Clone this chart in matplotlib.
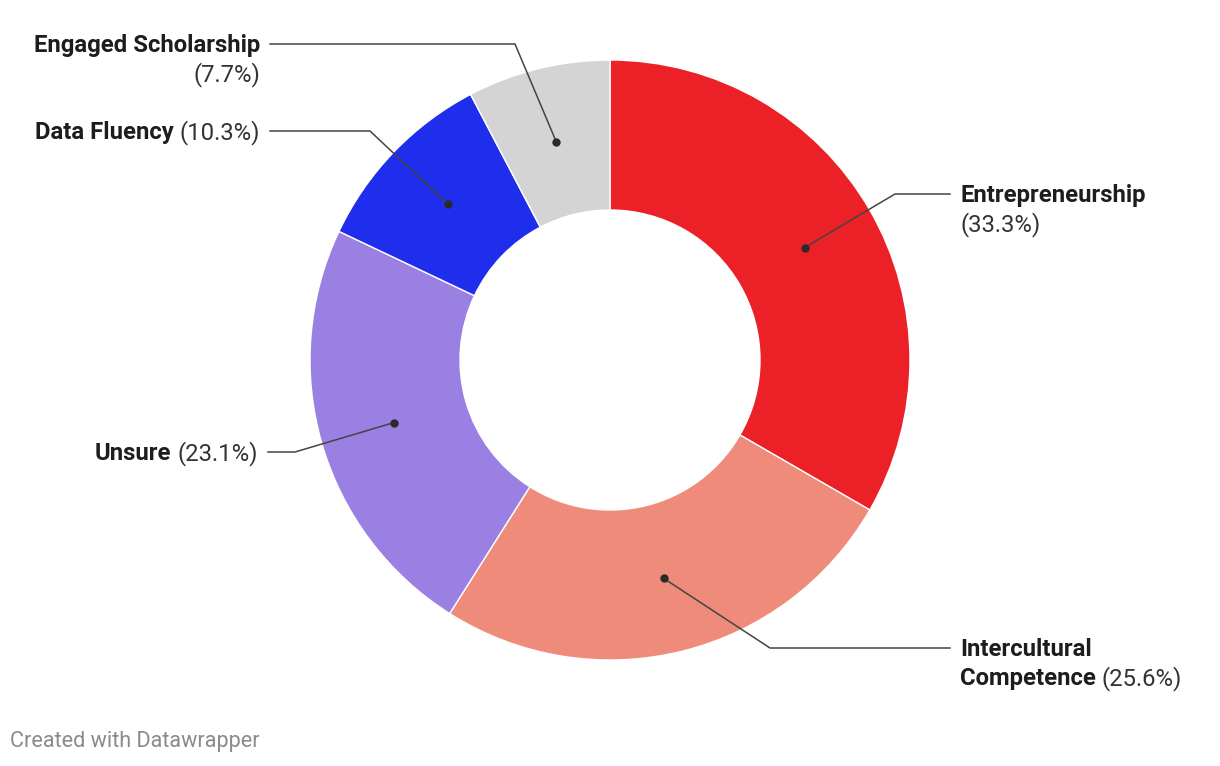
import matplotlib.pyplot as plt
import numpy as np

categories = ["Entrepreneurship", "Intercultural Competence", "Unsure",
              "Data Fluency", "Engaged Scholarship"]
counts = [13, 10, 9, 4, 3]
colors = ["#ec2128", "#ee8b7a", "#9a80e2", "#1f2ded", "#d4d4d4"]

# label layout, pixel coords from top-left: elbow, end of leader, side, line breaks
label_layout = [
    dict(elbow=(895, 194), end=950, side="left", lines=[["Entrepreneurship"], [None]]),
    dict(elbow=(770, 648), end=950, side="left", lines=[["Intercultural"], ["Competence", None]]),
    dict(elbow=(295, 452), end=268, side="right", lines=[["Unsure", None]]),
    dict(elbow=(370, 131), end=270, side="right", lines=[["Data Fluency", None]]),
    dict(elbow=(515, 44), end=270, side="right", lines=[["Engaged Scholarship"], [None]]),
]

W, H = 1220, 766
FS = 17.2
LINE_H = 29
FONT = "Roboto"

fig = plt.figure(figsize=(W / 100, H / 100), dpi=100)
ax = fig.add_axes([0, 0, 1, 1])

cx, cy, R = 610, H - 360, 300
wedges, _ = ax.pie(
    counts, colors=colors, startangle=90, counterclock=False,
    radius=R, center=(cx, cy),
    wedgeprops=dict(width=150, edgecolor="white", linewidth=1),
)
ax.set_xlim(0, W)
ax.set_ylim(0, H)
ax.set_aspect("equal")
ax.axis("off")

renderer = fig.canvas.get_renderer()
total = sum(counts)


def draw_line(x, y, parts, side):
    pieces = []
    for txt, bold in parts:
        pieces.append(ax.text(0, y, txt, fontsize=FS, family=FONT,
                              fontweight="bold" if bold else "normal",
                              color="#1d1d1d" if bold else "#333333",
                              va="baseline", ha="left"))
    widths = [p.get_window_extent(renderer).width for p in pieces]
    gap = 6
    width = sum(widths) + gap * (len(pieces) - 1)
    start = x if side == "left" else x - width
    for p, w in zip(pieces, widths):
        p.set_x(start)
        start += w + gap


for w, name, n, lay in zip(wedges, categories, counts, label_layout):
    mid = np.deg2rad((w.theta1 + w.theta2) / 2)
    r = R - 75
    dx, dy = cx + r * np.cos(mid), cy + r * np.sin(mid)
    ex, ey = lay["elbow"][0], H - lay["elbow"][1]
    ax.plot([dx, ex, lay["end"]], [dy, ey, ey], color="#444444", lw=1.1,
            solid_joinstyle="miter", zorder=3)
    ax.plot(dx, dy, "o", color="#2a2a2a", ms=5, zorder=4)

    pct = f"({n / total * 100:.1f}%)"
    tx = lay["end"] + 10 if lay["side"] == "left" else lay["end"] - 10
    base = H - (lay["elbow"][1] + 8)
    for i, line in enumerate(lay["lines"]):
        parts = [(pct, False) if item is None else (item, True) for item in line]
        draw_line(tx, base - i * LINE_H, parts, lay["side"])

ax.text(10, H - 742, "Created with Datawrapper", fontsize=15.6, family=FONT,
        color="#8a8a8a", va="center", ha="left")

fig.savefig("out.png", dpi=100)
